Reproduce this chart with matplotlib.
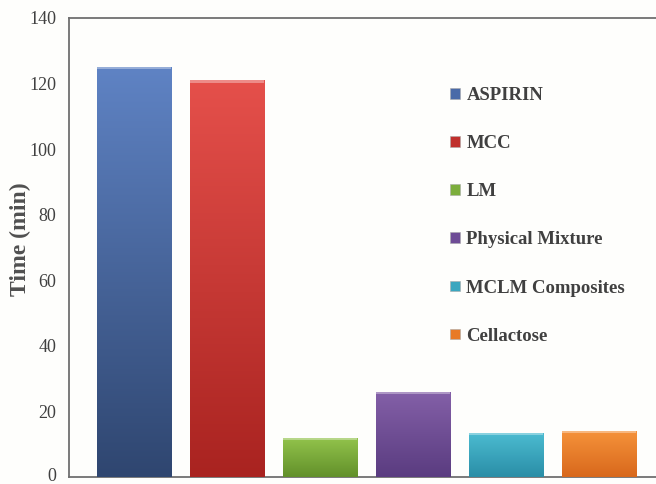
import matplotlib.pyplot as plt
import matplotlib.transforms as mtransforms
import numpy as np
from matplotlib.colors import LinearSegmentedColormap
from matplotlib.patches import Patch

labels = ['ASPIRIN', 'MCC', 'LM', 'Physical Mixture', 'MCLM Composites', 'Cellactose']
times = [125, 121, 12, 26, 13.5, 14]
# (top, bottom) shade of each bar
shades = [('#5f83c4', '#2f4670'),
          ('#e5504b', '#a92320'),
          ('#93c44c', '#62902a'),
          ('#8460a8', '#5a3c80'),
          ('#4cbcd2', '#2a8ea6'),
          ('#f5923a', '#d8681c')]
legend_colors = ['#4a6aa8', '#c0302c', '#7cae3c', '#6e4c96', '#3aa6bf', '#e87a26']

plt.rcParams['font.family'] = ['Liberation Serif', 'DejaVu Serif']
text_color = '#404040'

fig = plt.figure(figsize=(6.56, 4.84), dpi=100)
ax = fig.add_axes([0.105, 0.0145, 0.895, 0.9485])
fig.patch.set_facecolor('#fefefc')
ax.set_facecolor('#fefefc')

x = np.arange(len(times))
bars = ax.bar(x, times, width=0.8, color=[s[0] for s in shades], zorder=3,
              edgecolor='#9a9a9a', linewidth=0.4)

# vertical gradient inside each bar, plus a light strip on top
grad = np.linspace(0, 1, 256).reshape(-1, 1)
for bar, (top, bottom) in zip(bars, shades):
    bx, by = bar.get_x(), bar.get_y()
    bw, bh = bar.get_width(), bar.get_height()
    cmap = LinearSegmentedColormap.from_list('g', [bottom, top])
    im = ax.imshow(grad, extent=(bx, bx + bw, by, by + bh), origin='lower',
                   aspect='auto', cmap=cmap, zorder=3.1)
    im.set_clip_path(bar)
    ax.add_patch(plt.Rectangle((bx, by + bh - 0.7), bw, 0.7, color='white',
                               alpha=0.35, zorder=3.2, linewidth=0))

ax.set_xlim(-0.70, 5.61)
ax.set_ylim(0, 140)
ax.set_yticks(range(0, 141, 20))
ax.set_xticks([])
ax.tick_params(axis='y', length=0, pad=9, labelsize=13, labelcolor=text_color)
# keep the "0" label inside the canvas
zero = ax.get_yticklabels()[0]
zero.set_transform(zero.get_transform() + mtransforms.ScaledTranslation(0, 2 / 72, fig.dpi_scale_trans))

fig.text(20 / 656, 0.506, 'Time (min)', rotation=90, ha='center', va='center',
         fontsize=17, fontweight='bold', color='#505050')

for side in ['left', 'top', 'bottom']:
    ax.spines[side].set_color('#707070')
    ax.spines[side].set_linewidth(1.3)
ax.spines['right'].set_visible(False)

handles = [Patch(facecolor=c, edgecolor='#aaaaaa', linewidth=0.4) for c in legend_colors]
leg = ax.legend(handles, labels, loc='upper left', bbox_to_anchor=(0.661, 0.855),
                bbox_transform=fig.transFigure, frameon=False,
                handlelength=0.5, handleheight=0.5, handletextpad=0.35,
                labelspacing=1.66, prop={'weight': 'bold', 'size': 13.5})
for t in leg.get_texts():
    t.set_color(text_color)

fig.savefig('out.png', dpi=100, facecolor=fig.get_facecolor())
